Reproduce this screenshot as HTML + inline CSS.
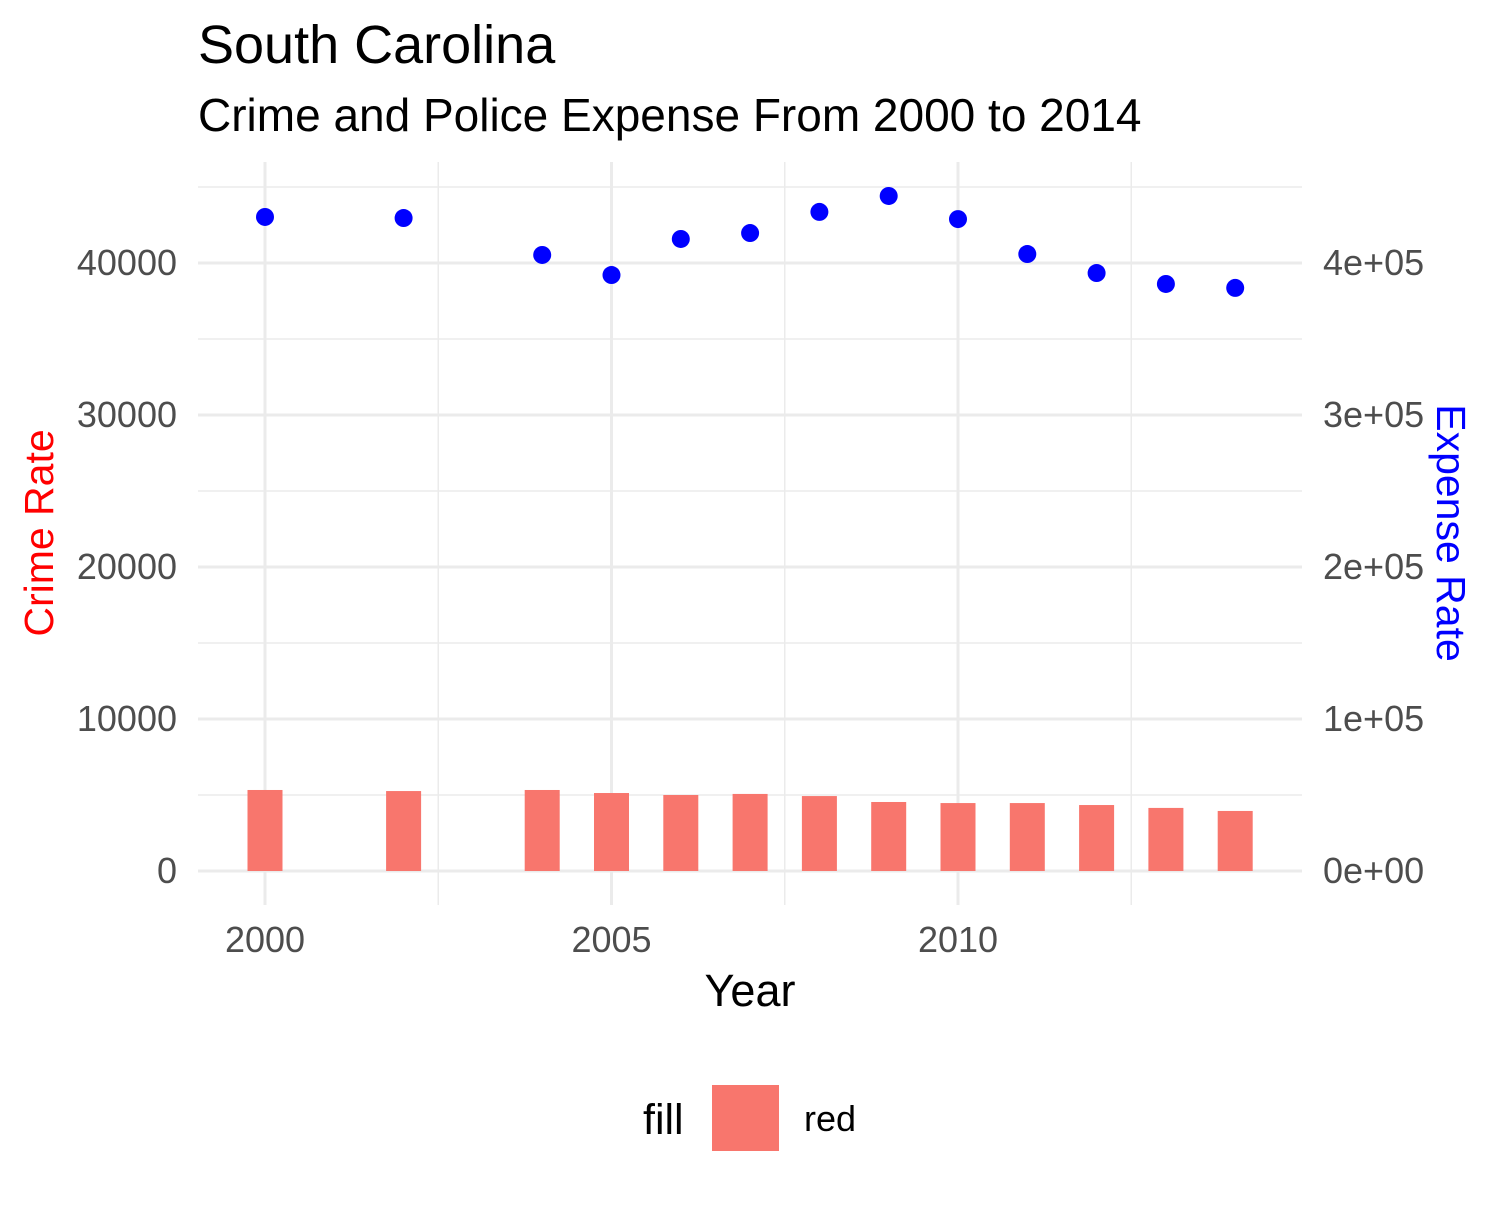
<!DOCTYPE html>
<html><head><meta charset="utf-8"><style>
body{margin:0;background:#fff}
svg{font-family:"Liberation Sans",Arial,sans-serif}
</style></head><body>
<svg id="chart" width="1500" height="1200" xmlns="http://www.w3.org/2000/svg">
<text x="198" y="63" font-size="54" fill="#000">South Carolina</text>
<text x="198" y="131" font-size="46" fill="#000">Crime and Police Expense From 2000 to 2014</text>
<g id="grid"></g>
<g id="bars"></g>
<g id="points"></g>
<g id="axes"></g>
<text x="750" y="1006" font-size="45" text-anchor="middle">Year</text>
<text transform="translate(53,533) rotate(-90)" font-size="41" fill="#ff0000" text-anchor="middle">Crime Rate</text>
<text transform="translate(1437,533) rotate(90)" font-size="41" fill="#0000ff" text-anchor="middle">Expense Rate</text>
<g>
<text x="643" y="1134" font-size="43">fill</text>
<rect x="712" y="1085" width="67" height="66" fill="#F8766D"/>
<text x="804" y="1131" font-size="36">red</text>
</g>
</svg>
<script>
const years=[2000,2002,2004,2005,2006,2007,2008,2009,2010,2011,2012,2013,2014];
const crime=[5330,5260,5330,5130,5000,5070,4930,4540,4470,4470,4340,4150,3950];
const expense=[430300,429600,405300,392100,415800,419700,433600,444100,428900,405900,393400,386200,383600];
const xTicks=[2000,2005,2010];
const yTicks=[0,10000,20000,30000,40000];
const y2Labels=["0e+00","1e+05","2e+05","3e+05","4e+05"];
const NS="http://www.w3.org/2000/svg";
const L=198,R=1302,T=162,B=905;
const x=v=>265+(v-2000)*69.3;
const y=v=>871-v*0.0152;
const y2=v=>871-v*0.00152;
function mk(tag,attrs,parent){const e=document.createElementNS(NS,tag);for(const k in attrs)e.setAttribute(k,attrs[k]);parent.appendChild(e);return e;}
const grid=document.getElementById('grid');
for(let v=5000;v<=45000;v+=10000){
 const l=mk('line',{x1:L,x2:R,y1:y(v),y2:y(v),stroke:'#ebebeb','stroke-width':1.5},grid);
 
 
}
for(const v of [2002.5,2007.5,2012.5]){
 const l=mk('line',{x1:x(v),x2:x(v),y1:T,y2:B,stroke:'#ebebeb','stroke-width':1.5},grid);
 
 
}
yTicks.forEach((v,i)=>{
 const l=mk('line',{x1:L,x2:R,y1:y(v),y2:y(v),stroke:'#ebebeb','stroke-width':3},grid);
 
 
});
xTicks.forEach(v=>{
 const l=mk('line',{x1:x(v),x2:x(v),y1:T,y2:B,stroke:'#ebebeb','stroke-width':3},grid);
 
 
});
const bars=document.getElementById('bars');
years.forEach((yr,i)=>{
 const r=mk('rect',{x:x(yr)-17.5,y:y(crime[i]),width:35,height:y(0)-y(crime[i]),fill:'#F8766D'},bars);
 
 
});
const pts=document.getElementById('points');
years.forEach((yr,i)=>{
 const c=mk('circle',{cx:x(yr),cy:y2(expense[i]),r:9,fill:'#0000ff'},pts);
 
 
});
const ax=document.getElementById('axes');
yTicks.forEach((v,i)=>{
 const t=mk('text',{x:177,y:y(v)+12,'font-size':36,fill:'#4d4d4d','text-anchor':'end'},ax);
 t.textContent=String(v);
 
 
 const t2=mk('text',{x:1323,y:y(v)+12,'font-size':36,fill:'#4d4d4d'},ax);
 t2.textContent=y2Labels[i];
 
 
});
xTicks.forEach(v=>{
 const t=mk('text',{x:x(v),y:952,'font-size':36,fill:'#4d4d4d','text-anchor':'middle'},ax);
 t.textContent=String(v);
 
 
});
</script>
</body></html>
